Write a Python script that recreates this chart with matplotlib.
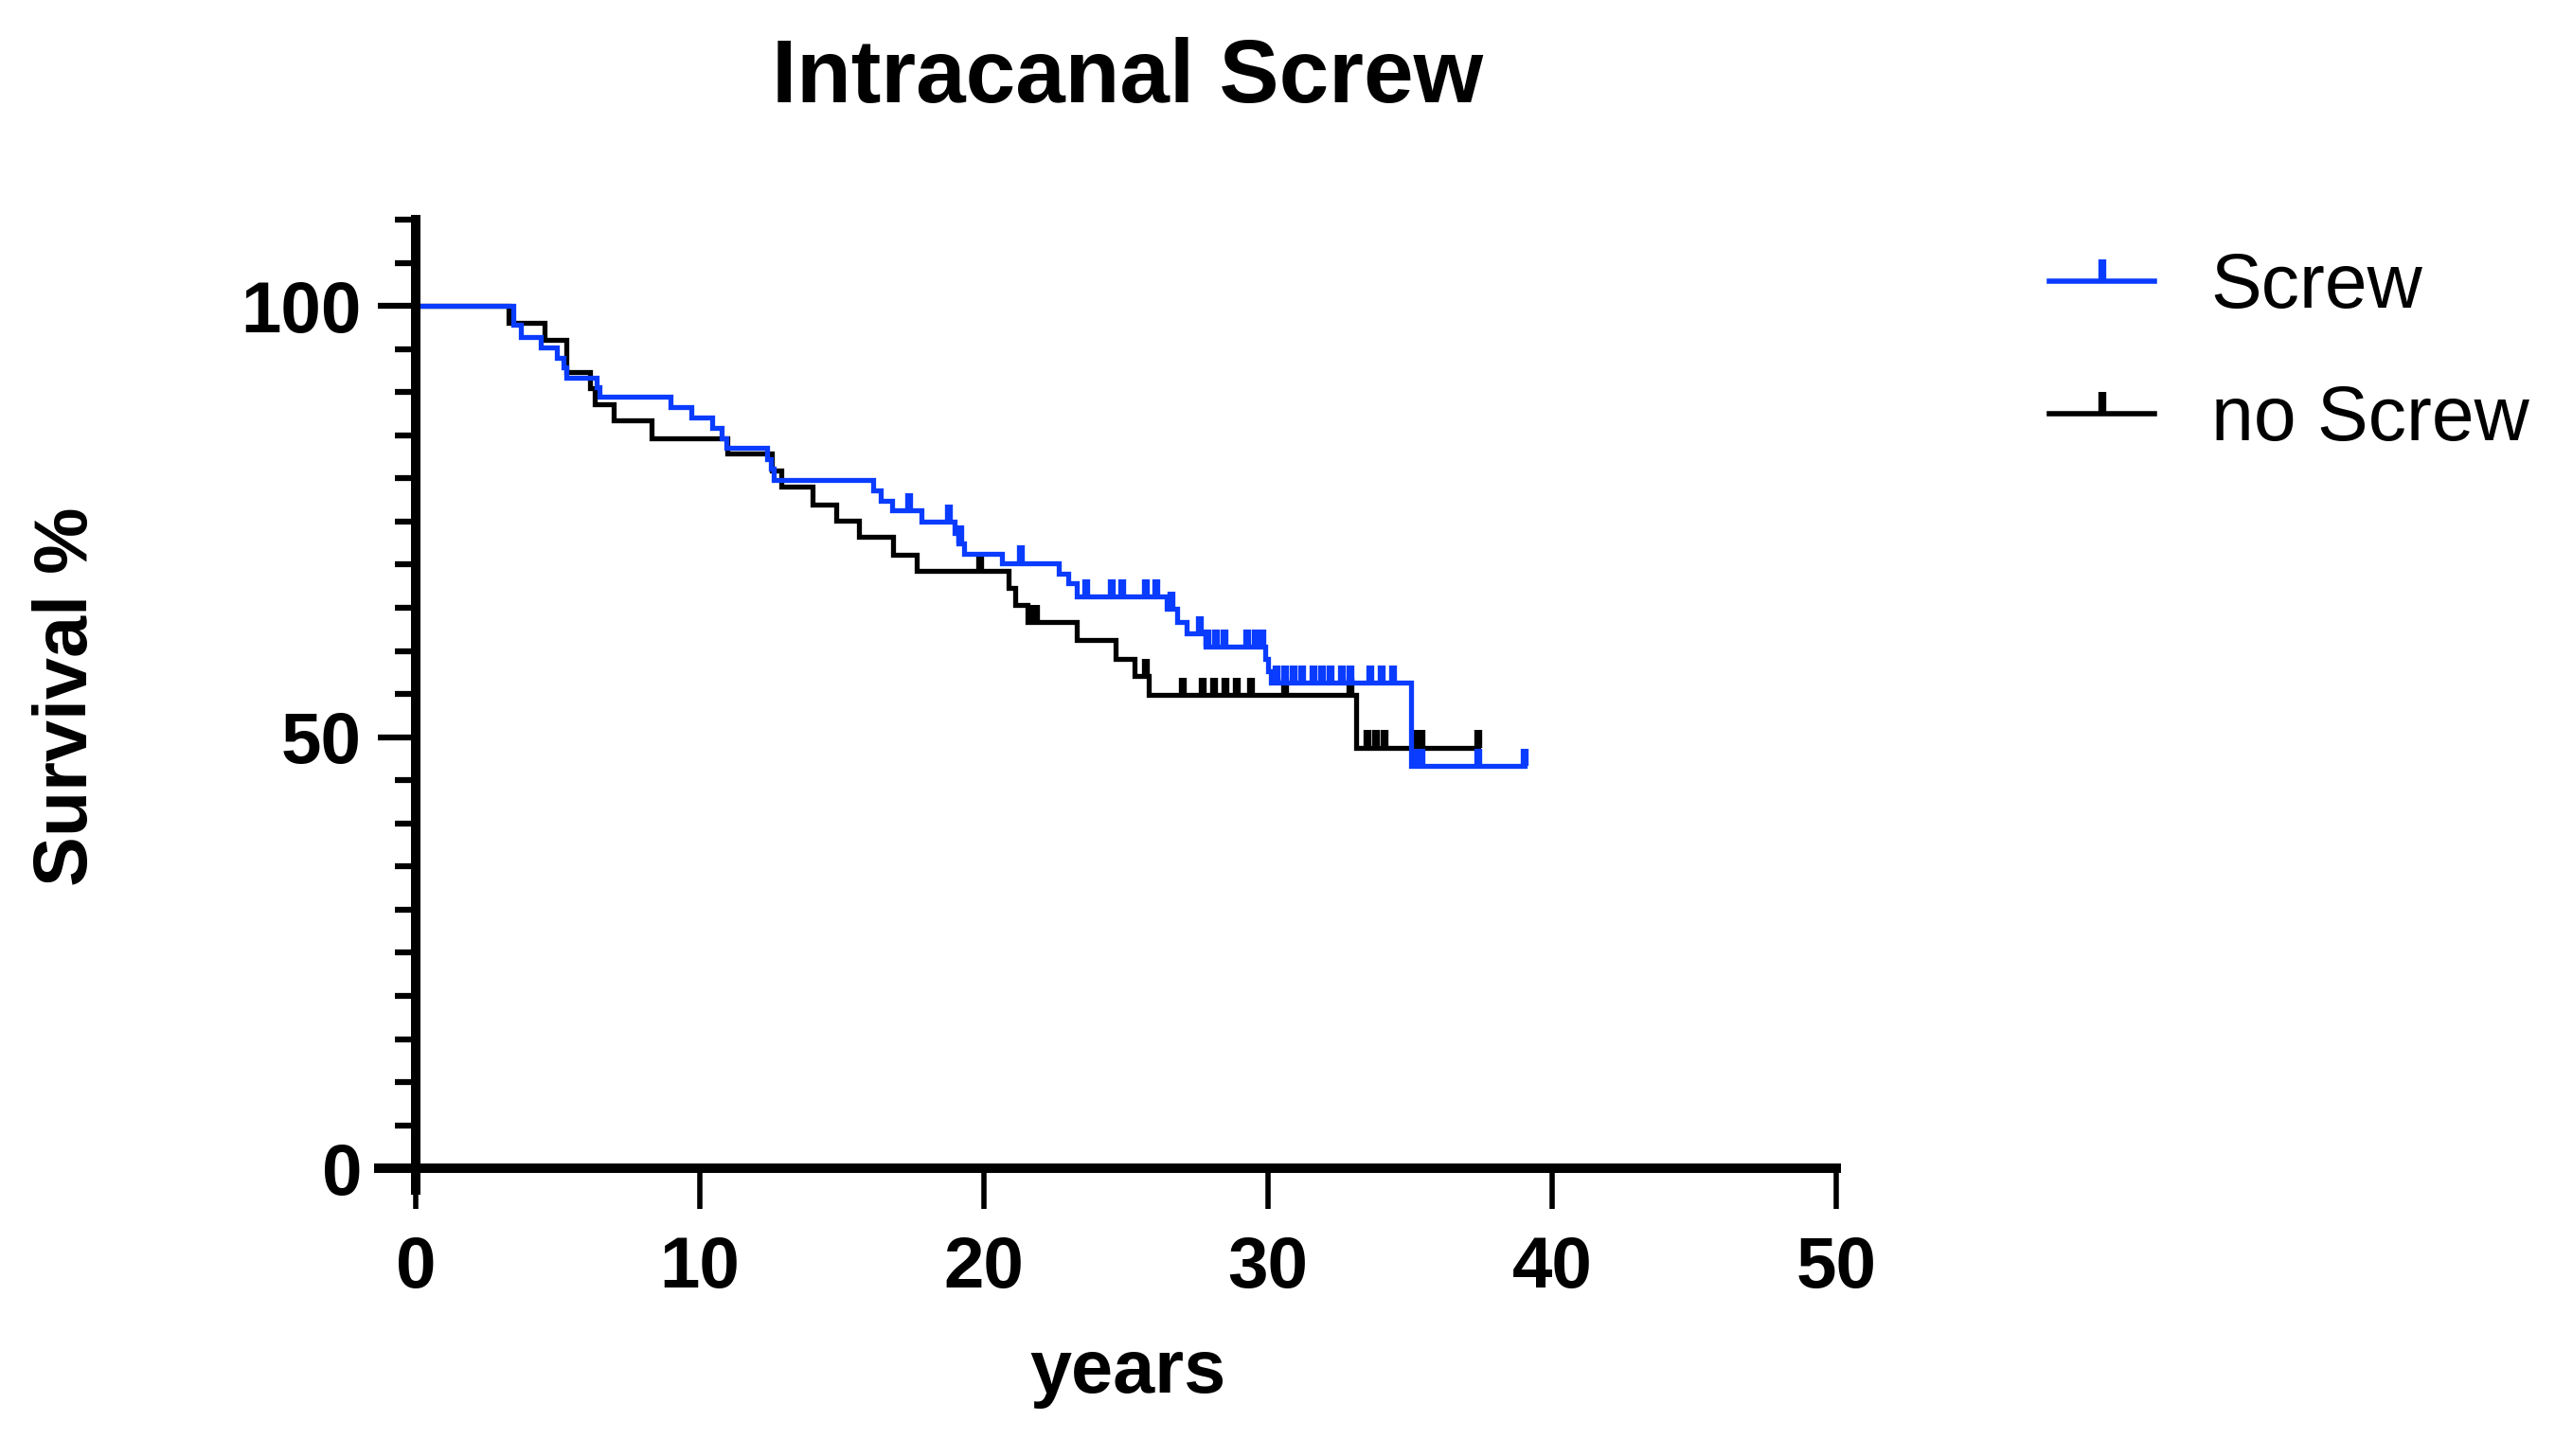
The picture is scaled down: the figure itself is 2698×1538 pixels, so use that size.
import numpy as np
import matplotlib
matplotlib.use("Agg")
import matplotlib.pyplot as plt
from matplotlib.path import Path
from matplotlib.lines import Line2D
from matplotlib.ticker import MultipleLocator

# Dane: czas (lata) i przeżycie (%) po każdym zdarzeniu
screw_czas = [0, 3.42, 3.70, 4.39, 4.97, 5.20, 5.30, 6.37, 6.47, 8.98, 9.70,
              10.42, 10.76, 10.92, 12.37, 12.50, 12.59, 16.09, 16.37, 16.76,
              17.81, 18.98, 19.10, 19.30, 20.64, 22.64, 22.98, 23.26, 26.42,
              26.81, 27.14, 27.81, 29.90, 30.00, 30.10, 35.03]
screw_przezycie = [100, 97.8, 96.4, 95.2, 94.0, 92.9, 91.7, 90.6, 89.5, 88.3, 87.1,
                   85.8, 84.6, 83.5, 82.2, 81.1, 79.8, 78.6, 77.4, 76.3,
                   75.0, 73.7, 72.5, 71.3, 70.2, 69.0, 67.8, 66.3, 64.9,
                   63.4, 62.0, 60.5, 59.1, 57.7, 56.3, 46.7]
screw_koniec = 39.03
screw_cenzura = [17.37, 18.76, 19.15, 21.31, 23.59, 24.50, 24.85, 25.70, 26.05,
                 26.60, 27.59, 27.85, 28.15, 28.45, 29.25, 29.55, 29.80,
                 30.30, 30.60, 30.90, 31.20, 31.60, 31.90, 32.20, 32.60, 32.90,
                 33.60, 34.00, 34.40, 35.15, 35.40, 37.40, 39.03]

no_screw_czas = [0, 3.26, 4.53, 5.31, 6.12, 6.31, 6.98, 8.31, 10.98, 12.53,
                 12.87, 13.98, 14.79, 15.60, 16.80, 17.64, 20.87, 21.09, 21.53,
                 23.26, 24.64, 25.31, 25.80, 33.09]
no_screw_przezycie = [100, 98.0, 96.1, 92.3, 90.5, 88.6, 86.7, 84.7, 82.9, 80.9,
                      79.0, 77.0, 75.1, 73.2, 71.2, 69.3, 67.3, 65.3, 63.3,
                      61.3, 59.1, 57.1, 54.9, 48.8]
no_screw_koniec = 37.40
no_screw_cenzura = [19.87, 21.62, 21.82, 25.70, 27.00, 27.70, 28.10, 28.50, 28.90,
                    29.40, 30.60, 32.90, 33.50, 33.80, 34.10, 35.20, 35.40, 37.40]

etykiety = ["Screw", "no Screw"]
kolory = ["#0A3CFF", "black"]

x_ticki = [0, 10, 20, 30, 40, 50]
y_ticki = [0, 50, 100]


def poziom(czasy, wartosci, t):
    """Wartość krzywej schodkowej w chwili t."""
    idx = np.searchsorted(czasy, t, side="right") - 1
    return np.asarray(wartosci)[idx]


plt.rcParams["font.family"] = ["Liberation Sans", "DejaVu Sans"]
plt.rcParams["font.weight"] = "bold"

W, H = 2698, 1538
fig = plt.figure(figsize=(W / 100, H / 100), dpi=100)
ax = fig.add_axes([400 / W, 281 / H, 1539 / W, 1025 / H])

serie = [
    (no_screw_czas, no_screw_przezycie, no_screw_koniec, no_screw_cenzura, kolory[1]),
    (screw_czas, screw_przezycie, screw_koniec, screw_cenzura, kolory[0]),
]
for czas, przez, koniec, cenz, kolor in serie:
    ax.step(czas + [koniec], przez + [przez[-1]], where="post", color=kolor, lw=3.8,
            solid_joinstyle="miter")
    y_c = poziom(czas, przez, cenz)
    ax.vlines(cenz, y_c, y_c + 2.0, color=kolor, lw=6)

ax.set_xlim(-1.3, 50)
ax.set_ylim(-2.5, 110)
ax.set_xticks(x_ticki)
ax.set_yticks(y_ticki)
ax.yaxis.set_minor_locator(MultipleLocator(5))

for s in ["top", "right"]:
    ax.spines[s].set_visible(False)
ax.spines["left"].set_position(("data", 0))
ax.spines["bottom"].set_position(("data", 0))
ax.spines["left"].set_linewidth(7.2)
ax.spines["bottom"].set_linewidth(7.2)

ax.tick_params(axis="x", length=31, width=4, pad=20, labelsize=55)
ax.tick_params(axis="y", which="major", length=29, width=4.5, pad=12, labelsize=55)
ax.tick_params(axis="y", which="minor", length=16, width=4.5)

# Podpisy
fig.text(1191 / W, 1 - 108 / H, "Intracanal Screw", ha="center", va="baseline",
         fontsize=68, fontweight="bold")
fig.text(1191 / W, 1 - 1471 / H, "years", ha="center", va="baseline",
         fontsize=57, fontweight="bold")
fig.text(72 / W, 1 - 736 / H, "Survival %", ha="center", va="center",
         rotation=90, fontsize=57, fontweight="bold")

# Legenda z kreską cenzury
znacznik = Path([(0, 0), (0, 1)], [Path.MOVETO, Path.LINETO])
uchwyty = [Line2D([], [], color=k, lw=4.0, marker=znacznik, markersize=33,
                  markeredgewidth=6) for k in kolory]
ax.legend(uchwyty, etykiety, loc="upper left", bbox_to_anchor=(2164 / W, 1 - 266 / H),
          bbox_transform=fig.transFigure, frameon=False, numpoints=1,
          prop={"size": 58, "weight": "normal"}, handlelength=1.38,
          handletextpad=0.74, labelspacing=0.8, borderpad=0, borderaxespad=0)

fig.savefig("out.png", dpi=100)
